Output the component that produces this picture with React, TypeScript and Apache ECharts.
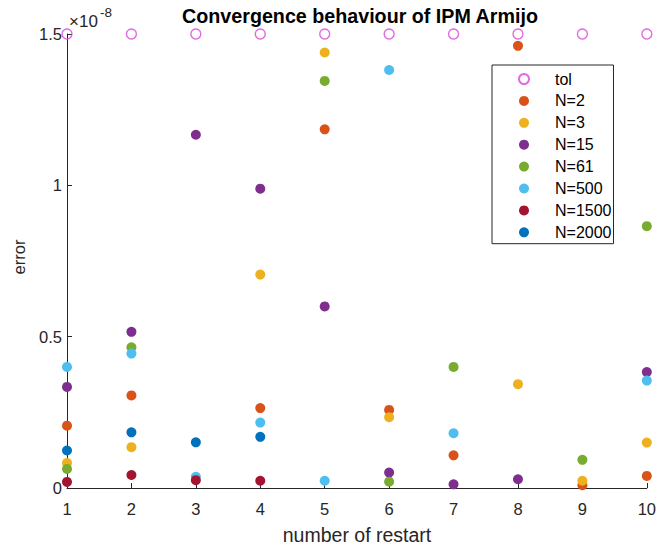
import React, { useEffect, useRef } from "react";
import * as echarts from "echarts";

// x: number of restart
const restarts = [1, 2, 3, 4, 5, 6, 7, 8, 9, 10];
// errors in units of 1e-8 (null = no point drawn)
const tol = [1.5, 1.5, 1.5, 1.5, 1.5, 1.5, 1.5, 1.5, 1.5, 1.5];
const n2 = [0.206, 0.306, null, 0.264, 1.185, 0.258, 0.108, 1.461, 0.009, 0.04];
const n3 = [0.083, 0.135, null, 0.705, 1.439, 0.234, null, 0.343, 0.024, 0.15];
const n15 = [0.334, 0.516, 1.167, 0.989, 0.6, 0.051, 0.012, 0.029, null, 0.383];
const n61 = [0.063, 0.465, null, null, 1.345, 0.021, 0.4, null, 0.093, 0.865];
const n500 = [0.4, 0.444, 0.037, 0.216, 0.024, 1.381, 0.181, null, null, 0.355];
const n1500 = [0.02, 0.043, 0.026, 0.024, null, null, null, null, null, null];
const n2000 = [0.124, 0.184, 0.151, 0.169, null, null, null, null, null, null];

const seriesNames = ["tol", "N=2", "N=3", "N=15", "N=61", "N=500", "N=1500", "N=2000"];
const seriesValues = [tol, n2, n3, n15, n61, n500, n1500, n2000];
const seriesColors = ["#d946d9", "#d95319", "#edb120", "#7e2f8e", "#77ac30", "#4dbeee", "#a2142f", "#0072bd"];

const yTicks = [0, 0.5, 1, 1.5];
const FONT = "'Liberation Sans', Arial, sans-serif";
const INK = "#262626";

export default function App() {
  const ref = useRef<HTMLDivElement>(null);
  useEffect(() => {
    if (!ref.current) return;
    const chart = echarts.init(ref.current, null, { renderer: "svg" });
    const series = seriesNames.map((name, si) => {
      const vals = seriesValues[si];
      const data = restarts
        .map((x, i) => (vals[i] == null ? null : [x, vals[i]]))
        .filter((d) => d !== null);
      const isTol = si === 0;
      return {
        name,
        type: "scatter",
        data,
        symbol: "circle",
        symbolSize: 10,
        clip: false,
        itemStyle: isTol
          ? { color: "rgba(255,255,255,0)", borderColor: seriesColors[si], borderWidth: 1.4 }
          : { color: seriesColors[si], opacity: 1 },
        emphasis: { disabled: true },
      };
    });
    chart.setOption({
      animation: false,
      backgroundColor: "#ffffff",
      textStyle: { fontFamily: FONT },
      title: {
        text: "Convergence behaviour of IPM Armijo",
        left: 355,
        top: 1,
        textAlign: "center",
        textStyle: { fontFamily: FONT, fontSize: 19.7, fontWeight: "bold", color: "#000" },
      },
      grid: { left: 67, right: 12, top: 34, bottom: 58, containLabel: false },
      legend: {
        data: seriesNames,
        orient: "vertical",
        left: 492,
        top: 65,
        padding: [6, 2, 3.4, 26],
        itemGap: 5.9,
        itemWidth: 10,
        itemHeight: 10,
        borderColor: INK,
        borderWidth: 1,
        backgroundColor: "#fff",
        selectedMode: false,
        textStyle: { fontFamily: FONT, fontSize: 16, color: "#000", padding: [0, 0, 0, 21] },
      },
      xAxis: {
        type: "value",
        min: 1,
        max: 10,
        interval: 1,
        axisLine: { show: true, onZero: false, lineStyle: { color: INK, width: 1 } },
        axisTick: { show: true, inside: true, length: 5, lineStyle: { color: INK } },
        axisLabel: { fontFamily: FONT, fontSize: 16.5, color: INK, margin: 12 },
        splitLine: { show: false },
      },
      yAxis: {
        type: "value",
        min: yTicks[0],
        max: yTicks[yTicks.length - 1],
        interval: 0.5,
        axisLine: { show: true, onZero: false, lineStyle: { color: INK, width: 1 } },
        axisTick: { show: true, inside: true, length: 5, lineStyle: { color: INK } },
        axisLabel: {
          fontFamily: FONT,
          fontSize: 16.5,
          color: INK,
          margin: 5,
          formatter: (v: number) => String(v),
        },
        splitLine: { show: false },
      },
      graphic: [
        {
          type: "text",
          left: 69,
          top: 13,
          style: { text: "×10", fontFamily: FONT, fontSize: 17, fill: INK },
        },
        {
          type: "text",
          left: 100,
          top: 5,
          style: { text: "-8", fontFamily: FONT, fontSize: 13.5, fill: INK },
        },
        {
          type: "text",
          x: 19,
          y: 257,
          rotation: Math.PI / 2,
          style: {
            text: "error",
            fontFamily: FONT,
            fontSize: 16.5,
            fill: INK,
            align: "center",
            verticalAlign: "middle",
          },
        },
        {
          type: "text",
          x: 357,
          y: 535,
          style: {
            text: "number of restart",
            fontFamily: FONT,
            fontSize: 19.5,
            fill: INK,
            align: "center",
            verticalAlign: "middle",
          },
        },
      ],
      series,
    });
    return () => chart.dispose();
  }, []);
  return (
    <div
      ref={ref}
      style={{ position: "absolute", left: 0, top: 0, width: 659, height: 546 }}
    />
  );
}
